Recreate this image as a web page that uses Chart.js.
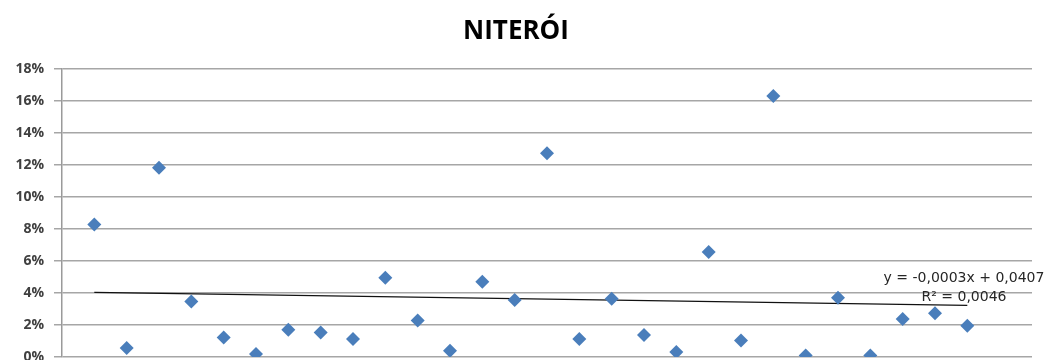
<!DOCTYPE html>
<html>
<head>
<meta charset="utf-8">
<script src="https://cdn.jsdelivr.net/npm/chart.js@4.4.1/dist/chart.umd.min.js"></script>
<style>
  html, body { margin: 0; padding: 0; background: #ffffff; overflow: hidden; }
  #wrap { width: 1046px; height: 400px; }
</style>
</head>
<body>
<div id="wrap"><canvas id="chart" width="1046" height="400"></canvas></div>
<script>
// Observation index (1..28) and the share recorded for each
const periods = [1, 2, 3, 4, 5, 6, 7, 8, 9, 10, 11, 12, 13, 14, 15, 16, 17, 18, 19, 20, 21, 22, 23, 24, 25, 26, 27, 28];
const shares = [0.0829, 0.0056, 0.1184, 0.0347, 0.0122, 0.0019, 0.0170, 0.0153, 0.0112, 0.0496,
                0.0228, 0.0039, 0.0471, 0.0357, 0.1275, 0.0112, 0.0365, 0.0137, 0.0031, 0.0656,
                0.0103, 0.1632, 0.0010, 0.0371, 0.0010, 0.0237, 0.0274, 0.0195];
const yTicks = [0, 0.02, 0.04, 0.06, 0.08, 0.10, 0.12, 0.14, 0.16, 0.18];

// Linear trend as stated in the label
const trendSlope = -0.0003;
const trendIntercept = 0.0407;
const trendText = ['y = -0,0003x + 0,0407', 'R\u00B2 = 0,0046'];

const points = periods.map((p, i) => ({ x: p, y: shares[i] }));
const first = periods[0], last = periods[periods.length - 1];
const trend = [
  { x: first, y: trendIntercept + trendSlope * first },
  { x: last, y: trendIntercept + trendSlope * last }
];

const trendLabel = {
  id: 'trendLabel',
  afterDatasetsDraw(chart) {
    const ctx = chart.ctx;
    ctx.save();
    ctx.font = '14px "DejaVu Sans", sans-serif';
    ctx.fillStyle = '#262626';
    ctx.textAlign = 'center';
    ctx.textBaseline = 'middle';
    ctx.fillText(trendText[0], 964, 278);
    ctx.fillText(trendText[1], 964, 297);
    ctx.restore();
  }
};

new Chart(document.getElementById('chart'), {
  type: 'scatter',
  data: {
    datasets: [
      {
        label: 'NITERÓI',
        data: points,
        pointStyle: 'rectRot',
        pointRadius: 7,
        pointHoverRadius: 7,
        backgroundColor: '#4a7ebb',
        borderColor: '#4a7ebb',
        borderWidth: 0,
        order: 1
      },
      {
        label: 'Tendência',
        type: 'line',
        data: trend,
        borderColor: '#111111',
        borderWidth: 1.3,
        pointRadius: 0,
        fill: false,
        order: 2
      }
    ]
  },
  plugins: [trendLabel],
  options: {
    responsive: false,
    animation: false,
    layout: { padding: { top: 0, right: 14, bottom: 43, left: 0 } },
    plugins: {
      legend: { display: false },
      tooltip: { enabled: false },
      title: {
        display: true,
        text: 'NITERÓI',
        color: '#000000',
        font: { family: '"Open Sans", "DejaVu Sans", sans-serif', size: 26, weight: 'bold' },
        padding: { top: 16, bottom: 22 }
      }
    },
    scales: {
      x: {
        type: 'linear',
        min: 0,
        max: 30,
        display: false
      },
      y: {
        min: 0,
        max: 0.18,
        afterFit(scale) { scale.width = 62; },
        afterBuildTicks(scale) { scale.ticks = yTicks.map(v => ({ value: v })); },
        border: { display: true, color: '#9a9a9a', width: 1.5 },
        grid: { color: '#a6a6a6', lineWidth: 1.5, tickLength: 8, drawTicks: true },
        ticks: {
          padding: 10,
          color: '#404040',
          font: { family: '"Open Sans", "DejaVu Sans", sans-serif', size: 14, weight: 'bold' },
          callback: v => Math.round(v * 100) + '%'
        }
      }
    }
  }
});
</script>
</body>
</html>
